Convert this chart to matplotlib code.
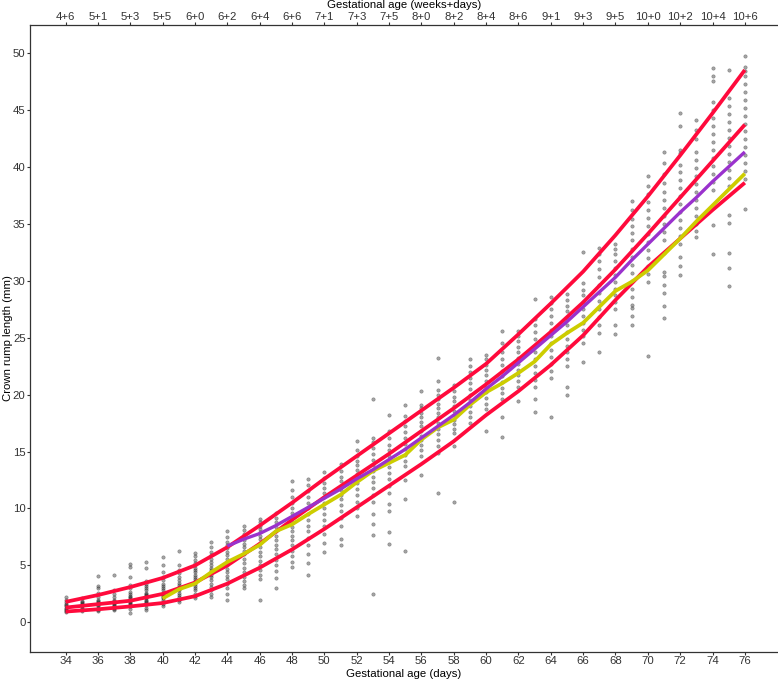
import matplotlib

matplotlib.use("Agg")
import matplotlib.pyplot as plt

plt.rcParams["font.family"] = ["Liberation Sans", "DejaVu Sans"]

# Reference curves (red), read every 2 days
curve_days = [34, 36, 38, 40, 42, 44, 46, 48, 50, 52, 54, 56, 58, 60, 62, 64, 66, 68, 70, 72, 74, 76]
upper = [1.8, 2.4, 3.1, 3.9, 5.0, 6.6, 8.5, 10.5, 12.6, 14.6, 16.6, 18.6, 20.6, 22.7,
         25.3, 28.0, 30.8, 34.0, 37.4, 41.0, 44.7, 48.5]
middle = [1.3, 1.6, 1.9, 2.5, 3.5, 5.0, 6.9, 9.0, 11.0, 12.9, 14.8, 16.8, 18.8, 20.9,
          23.1, 25.5, 28.1, 31.0, 34.1, 37.3, 40.5, 43.7]
lower = [0.95, 1.15, 1.4, 1.7, 2.3, 3.4, 4.8, 6.4, 8.2, 10.1, 12.0, 13.9, 15.9, 18.2,
         20.3, 22.6, 25.2, 28.3, 31.2, 33.7, 36.2, 38.6]

# Purple line (days 44-76)
purple_days = list(range(44, 77))
purple = [6.7, 7.3, 7.8, 8.5, 9.3, 10.1, 10.9, 11.7, 12.6, 13.4, 14.3, 15.2, 16.2, 17.2,
          18.2, 19.3, 20.5, 21.6, 22.8, 24.0, 25.2, 26.4, 27.7, 29.0, 30.3, 31.8, 33.2,
          34.6, 36.0, 37.3, 38.7, 40.0, 41.3]

# Yellow line (days 40-76)
yellow_days = list(range(40, 77))
yellow = [2.1, 2.9, 3.4, 4.4, 5.3, 6.0, 6.8, 8.0, 8.6, 9.5, 10.35, 11.2, 12.3, 13.3, 14.0,
          14.7, 16.05, 17.1, 17.8, 19.1, 20.2, 21.0, 21.9, 22.9, 24.4, 25.4, 26.3, 27.7,
          29.1, 29.9, 30.9, 32.3, 33.7, 35.2, 36.6, 38.0, 39.4]

# Individual measurements, one list per gestational day
scatter_days = list(range(34, 77))
points_by_day = [
    [0.9, 1.0, 1.1, 1.2, 1.3, 1.4, 1.5, 1.6, 1.8, 2.0, 2.2],
    [1.0, 1.1, 1.2, 1.3, 1.4, 1.5, 1.6, 1.7, 1.8, 1.9, 2.1],
    [1.0, 1.1, 1.2, 1.3, 1.4, 1.5, 1.6, 1.7, 1.8, 1.9, 2.0, 2.2, 2.6, 3.0, 3.2, 4.1],
    [1.1, 1.2, 1.3, 1.4, 1.5, 1.6, 1.7, 1.8, 1.9, 2.0, 2.2, 2.5, 2.8, 4.2],
    [0.8, 1.2, 1.4, 1.5, 1.6, 1.7, 1.8, 1.9, 2.0, 2.1, 2.2, 2.3, 2.5, 2.7, 3.0, 3.3, 4.0, 4.9, 5.1],
    [1.1, 1.3, 1.5, 1.7, 1.8, 1.9, 2.0, 2.1, 2.2, 2.3, 2.4, 2.5, 2.6, 2.8, 3.0, 3.2, 3.4, 3.6, 4.8, 5.3],
    [1.4, 1.6, 1.8, 2.0, 2.1, 2.2, 2.3, 2.4, 2.5, 2.6, 2.8, 3.0, 3.2, 3.4, 3.7, 4.0, 4.4, 5.0, 5.7],
    [1.8, 2.0, 2.2, 2.4, 2.6, 2.8, 2.9, 3.0, 3.1, 3.3, 3.5, 3.7, 4.0, 4.3, 4.6, 5.0, 6.3],
    [2.1, 2.3, 2.5, 2.8, 3.0, 3.2, 3.4, 3.6, 3.8, 4.0, 4.2, 4.4, 4.6, 4.8, 5.0, 5.2, 5.5, 5.8, 6.1],
    [2.2, 2.5, 2.8, 3.1, 3.4, 3.7, 4.0, 4.2, 4.4, 4.6, 4.8, 5.0, 5.3, 5.6, 5.9, 6.2, 6.6, 7.1],
    [2.0, 2.5, 3.0, 3.4, 3.8, 4.1, 4.4, 4.7, 5.0, 5.3, 5.6, 5.9, 6.2, 6.5, 6.8, 7.1, 7.5, 8.0],
    [3.0, 3.3, 3.6, 4.0, 4.4, 4.8, 5.2, 5.6, 6.0, 6.3, 6.6, 6.9, 7.2, 7.5, 7.8, 8.1, 8.5],
    [2.0, 3.8, 4.2, 4.6, 5.0, 5.4, 5.8, 6.2, 6.6, 7.0, 7.3, 7.6, 7.9, 8.2, 8.5, 8.8, 9.1],
    [3.0, 3.9, 4.5, 5.0, 5.5, 6.0, 6.4, 6.8, 7.2, 7.6, 8.0, 8.4, 8.8, 9.2, 9.6],
    [4.9, 5.3, 5.8, 6.3, 6.8, 7.2, 7.6, 8.0, 8.4, 8.8, 9.2, 9.6, 10.0, 10.5, 11.0, 11.6, 12.4],
    [4.2, 5.2, 6.0, 6.8, 7.4, 8.0, 8.5, 9.0, 9.5, 10.0, 10.5, 11.0, 11.5, 12.1, 12.6],
    [6.2, 7.0, 7.8, 8.5, 9.0, 9.5, 10.0, 10.5, 11.0, 11.4, 11.8, 12.2, 12.7, 13.2],
    [6.8, 7.3, 8.5, 9.2, 9.8, 10.3, 10.8, 11.2, 11.6, 12.0, 12.4, 12.8, 13.3, 13.9],
    [9.3, 10.0, 10.6, 11.2, 11.7, 12.2, 12.6, 13.0, 13.4, 13.8, 14.2, 14.6, 15.1, 15.9],
    [2.5, 7.7, 8.6, 9.5, 10.6, 11.2, 11.8, 12.3, 12.8, 13.3, 13.8, 14.3, 14.8, 15.3, 15.8, 16.2, 19.6],
    [6.9, 7.9, 9.8, 10.4, 11.4, 12.0, 12.6, 13.1, 13.6, 14.1, 14.6, 15.1, 15.6, 16.2, 16.8, 18.2],
    [6.3, 10.8, 12.5, 13.7, 14.2, 14.7, 15.2, 15.7, 16.2, 16.7, 17.2, 17.7, 18.1, 19.1],
    [12.9, 14.6, 15.1, 15.6, 16.0, 16.4, 16.8, 17.2, 17.6, 18.0, 18.4, 18.8, 19.1, 20.3],
    [11.4, 14.9, 15.5, 16.0, 16.5, 17.0, 17.5, 18.0, 18.4, 18.8, 19.2, 19.6, 20.0, 20.4, 21.2, 23.2],
    [10.6, 15.5, 16.6, 17.0, 17.4, 17.8, 18.2, 18.6, 19.0, 19.4, 19.8, 20.3, 20.8],
    [17.5, 18.0, 18.5, 19.0, 19.5, 20.0, 20.5, 21.0, 21.5, 22.0, 22.5, 23.1],
    [16.8, 18.7, 19.2, 19.7, 20.2, 20.7, 21.2, 21.7, 22.2, 22.6, 23.1, 23.5],
    [16.3, 18.0, 19.6, 20.1, 20.6, 21.1, 21.6, 22.1, 22.6, 23.1, 23.7, 24.5, 25.6],
    [19.4, 20.7, 21.2, 21.7, 22.2, 22.7, 23.2, 23.7, 24.2, 24.7, 25.1, 25.6],
    [18.5, 19.6, 20.7, 21.3, 21.9, 22.5, 23.1, 23.7, 24.3, 24.9, 25.5, 26.1, 26.6, 28.4],
    [18.0, 21.5, 22.1, 22.7, 23.3, 23.9, 24.5, 25.1, 25.7, 26.3, 26.9, 27.5, 28.0, 28.6],
    [20.0, 20.7, 22.5, 23.1, 23.7, 24.3, 24.9, 25.5, 26.1, 26.7, 27.3, 27.8, 28.3, 28.8],
    [22.9, 24.5, 25.1, 25.7, 26.3, 26.9, 27.5, 28.1, 28.7, 29.2, 29.8, 32.5],
    [23.7, 25.4, 26.1, 26.8, 27.5, 28.2, 28.9, 29.6, 30.3, 31.0, 31.7, 32.3, 32.9],
    [25.3, 26.1, 27.5, 28.1, 28.7, 29.3, 29.9, 30.5, 31.1, 31.7, 32.3, 32.8, 33.2],
    [26.1, 26.9, 27.6, 27.9, 28.6, 29.3, 30.0, 30.7, 31.4, 32.1, 32.8, 33.6, 34.2, 34.8, 35.4, 36.2, 37.0],
    [23.4, 29.9, 30.6, 31.3, 32.0, 32.7, 33.4, 34.1, 34.8, 35.5, 36.2, 36.9, 37.6, 38.3, 39.2],
    [26.7, 27.8, 28.9, 29.6, 30.4, 30.8, 32.4, 33.6, 34.3, 35.0, 35.7, 36.4, 37.1, 37.8, 38.6, 39.4, 40.3, 41.3],
    [30.5, 31.3, 32.1, 33.2, 33.9, 34.6, 35.3, 36.0, 36.7, 37.4, 38.1, 38.8, 39.5, 40.2, 41.2, 41.5, 43.6, 44.7],
    [33.8, 34.4, 35.0, 35.7, 36.4, 37.1, 37.8, 38.5, 39.2, 39.9, 40.6, 41.3, 42.4, 43.2, 44.1],
    [32.3, 34.9, 38.0, 38.7, 39.4, 40.1, 40.8, 41.5, 42.2, 42.9, 43.6, 44.3, 45.0, 45.7, 47.5, 48.0, 48.7],
    [29.5, 31.1, 32.4, 35.1, 35.8, 38.3, 39.0, 39.7, 40.4, 41.1, 41.8, 42.5, 43.2, 43.9, 44.6, 45.3, 46.0, 48.5],
    [36.3, 38.9, 39.6, 40.3, 41.0, 41.7, 42.4, 43.1, 43.8, 44.5, 45.2, 45.9, 46.6, 47.3, 48.0, 48.4, 48.8, 49.7],
]

x_ticks = list(range(34, 77, 2))
week_labels = ["4+6", "5+1", "5+3", "5+5", "6+0", "6+2", "6+4", "6+6", "7+1", "7+3", "7+5",
               "8+0", "8+2", "8+4", "8+6", "9+1", "9+3", "9+5", "10+0", "10+2", "10+4", "10+6"]
y_ticks = [0, 5, 10, 15, 20, 25, 30, 35, 40, 45, 50]

RED = "#FF0A3C"
PURPLE = "#9A32CD"
YELLOW = "#CDCD00"
FS = 8.2
W, H = 778, 681

fig = plt.figure(figsize=(W / 100, H / 100), dpi=100)
ax = fig.add_axes([0.0386, 0.0426, 0.9614, 0.9207])

xs, ys = [], []
for d, vals in zip(scatter_days, points_by_day):
    xs.extend([d] * len(vals))
    ys.extend(vals)
ax.scatter(xs, ys, s=6, c="#2a2a2a", alpha=0.42, linewidths=0.4, edgecolors="#1a1a1a", zorder=1)

for curve in (upper, middle, lower):
    ax.plot(curve_days, curve, color=RED, lw=2.7, solid_capstyle="butt", zorder=2)
ax.plot(yellow_days, yellow, color=YELLOW, lw=2.7, solid_capstyle="butt", zorder=3)
ax.plot(purple_days, purple, color=PURPLE, lw=2.4, solid_capstyle="butt", zorder=4)

ax.set_xlim(31.8, 78.05)
ax.set_ylim(-2.6, 52.45)
ax.set_xticks(x_ticks)
ax.set_yticks(y_ticks)
ax.tick_params(length=2.2, width=0.8, labelsize=FS, labelcolor="#333333", color="#333333", pad=1)
for side in ("top", "right"):
    ax.spines[side].set_visible(False)
for side in ("left", "bottom"):
    ax.spines[side].set_color("#333333")
    ax.spines[side].set_linewidth(0.9)

top = ax.secondary_xaxis("top")
top.set_xticks(x_ticks, labels=week_labels)
top.tick_params(length=2.0, width=0.8, labelsize=FS, labelcolor="#333333", color="#333333", pad=0.3)
top.spines["top"].set_color("#333333")
top.spines["top"].set_linewidth(0.9)

# axis titles placed in figure pixels to keep the tight ggplot-like layout
fig.text(404 / W, 1 - 4.5 / H, "Gestational age (weeks+days)", fontsize=FS, ha="center", va="center")
fig.text(404 / W, 1 - 674 / H, "Gestational age (days)", fontsize=FS, ha="center", va="center")
fig.text(8 / W, 1 - 338 / H, "Crown rump length (mm)", fontsize=FS, ha="center", va="center",
         rotation=90)

fig.savefig("out.png", dpi=100)
